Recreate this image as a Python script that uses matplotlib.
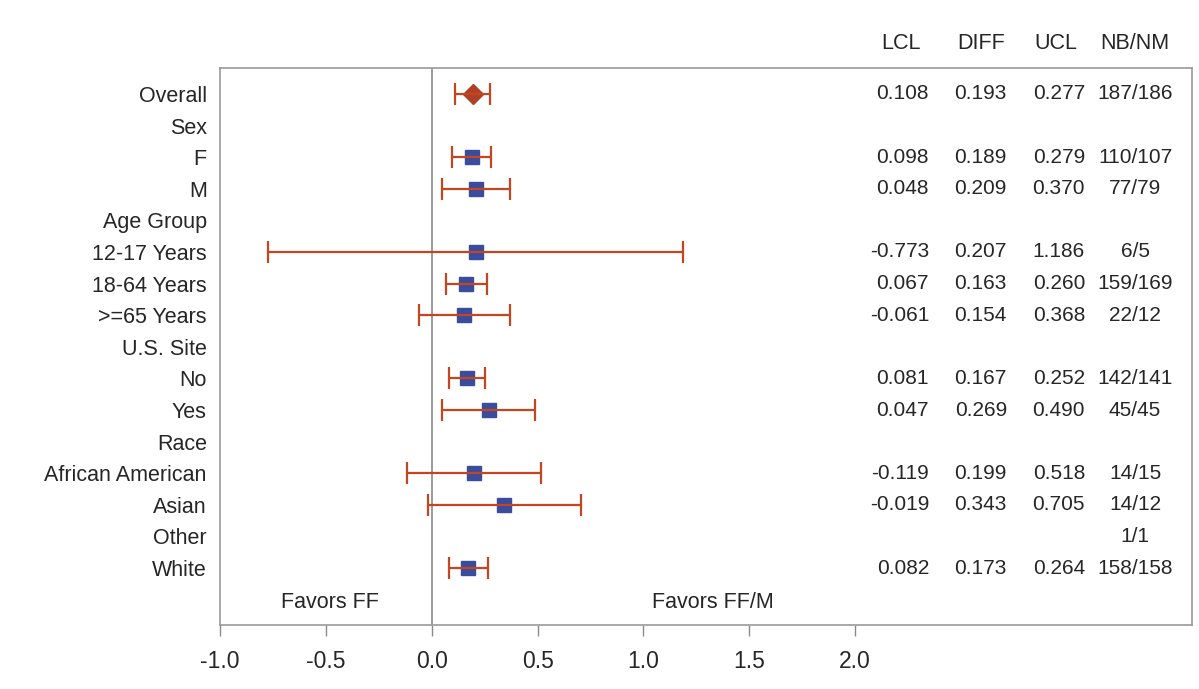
import numpy as np
import matplotlib
matplotlib.use("Agg")
import matplotlib.pyplot as plt

plt.rcParams['font.family'] = ['Liberation Sans', 'DejaVu Sans']

labels = ["Overall", "Sex", "F", "M", "Age Group", "12-17 Years", "18-64 Years",
          ">=65 Years", "U.S. Site", "No", "Yes", "Race", "African American",
          "Asian", "Other", "White"]
lcl = [0.108, None, 0.098, 0.048, None, -0.773, 0.067, -0.061, None, 0.081, 0.047,
       None, -0.119, -0.019, None, 0.082]
diff = [0.193, None, 0.189, 0.209, None, 0.207, 0.163, 0.154, None, 0.167, 0.269,
        None, 0.199, 0.343, None, 0.173]
ucl = [0.277, None, 0.279, 0.370, None, 1.186, 0.260, 0.368, None, 0.252, 0.490,
       None, 0.518, 0.705, None, 0.264]
nbnm = ["187/186", "", "110/107", "77/79", "", "6/5", "159/169", "22/12", "",
        "142/141", "45/45", "", "14/15", "14/12", "1/1", "158/158"]
col_headers = ["LCL", "DIFF", "UCL", "NB/NM"]
xticks = [-1.0, -0.5, 0.0, 0.5, 1.0, 1.5, 2.0]

W, H = 1199, 689
fig = plt.figure(figsize=(W / 100, H / 100), dpi=100)
ax = fig.add_axes([220 / W, 1 - 625 / H, (1192 - 220) / W, (625 - 68) / H])

ax.set_xlim(-1.0, 3.591)
ax.set_ylim(16.8, -0.82)

line_c = '#C4461F'
blue = '#3A4C9C'
dia_c = '#AE4028'
txt_c = '#262626'

ys = np.arange(len(labels))
idx = [i for i in range(len(labels)) if diff[i] is not None]
d = np.array([diff[i] for i in idx])
lo = np.array([lcl[i] for i in idx])
hi = np.array([ucl[i] for i in idx])
yy = ys[idx]

# markers
for i, y, v in zip(idx, yy, d):
    if i == 0:
        ax.plot(v, y, marker='D', ms=10.5, color=dia_c, mec=dia_c, zorder=2, ls='none')
    else:
        ax.plot(v, y, marker='s', ms=10, color=blue, mec=blue, zorder=2, ls='none')

ax.errorbar(d, yy, xerr=[d - lo, hi - d], fmt='none', ecolor=line_c,
            elinewidth=1.6, capsize=8, capthick=1.6, zorder=3)

ax.axvline(0, color='#8a8a8a', lw=1.2, zorder=1)

ax.set_yticks(ys)
ax.set_yticklabels(labels, fontsize=15.5, color=txt_c)
ax.tick_params(axis='y', length=0, pad=9.5)
ax.set_xticks(xticks)
ax.set_xticklabels([f"{t:.1f}" for t in xticks], fontsize=16.5, color=txt_c)
ax.tick_params(axis='x', length=8, width=1, color='#8a8a8a', pad=10)

for s in ax.spines.values():
    s.set_color('#9a9a9a')
    s.set_linewidth(1.2)

# table columns
x_lcl, x_diff, x_ucl, x_n = 2.349, 2.717, 3.086, 3.322
hdr_x = [2.217, 2.595, 2.949, 3.322]
for hx, h in zip(hdr_x, col_headers):
    ax.text(hx, -1.61, h, ha='center', va='center', fontsize=15.5, color=txt_c, clip_on=False)

for i in range(len(labels)):
    if diff[i] is not None:
        ax.text(x_lcl, i, f"{lcl[i]:.3f}", ha='right', va='center', fontsize=15, color=txt_c)
        ax.text(x_diff, i, f"{diff[i]:.3f}", ha='right', va='center', fontsize=15, color=txt_c)
        ax.text(x_ucl, i, f"{ucl[i]:.3f}", ha='right', va='center', fontsize=15, color=txt_c)
    if nbnm[i]:
        ax.text(x_n, i, nbnm[i], ha='center', va='center', fontsize=15, color=txt_c)

ax.text(-0.48, 16.1, "Favors FF", ha='center', va='center', fontsize=15.5, color=txt_c)
ax.text(1.33, 16.1, "Favors FF/M", ha='center', va='center', fontsize=15.5, color=txt_c)

fig.savefig("out.png", dpi=100)
